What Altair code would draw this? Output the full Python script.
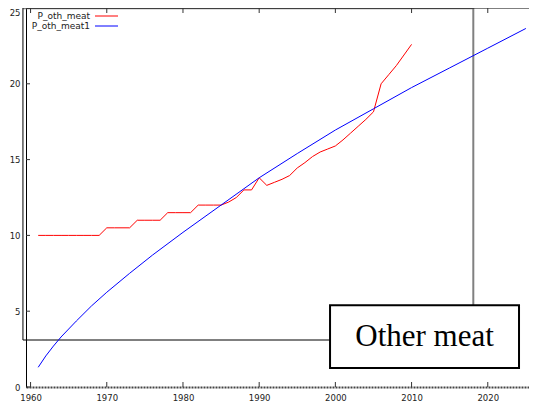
import altair as alt
import pandas as pd

# ---- data ----
red_years = list(range(1961, 2011))
red_vals = [10.0, 10.0, 10.0, 10.0, 10.0, 10.0, 10.0, 10.0, 10.0,
            10.5, 10.5, 10.5, 10.5,
            11.0, 11.0, 11.0, 11.0,
            11.5, 11.5, 11.5, 11.5,
            12.0, 12.0, 12.0, 12.0,
            12.2, 12.5, 13.0, 13.0, 13.8, 13.3, 13.5, 13.7, 13.95, 14.45,
            14.8, 15.2, 15.5, 15.7, 15.9, 16.3, 16.75, 17.2, 17.65, 18.15,
            20.0, 20.6, 21.2, 21.9, 22.6]

blue_years = [1961, 1962, 1963, 1964, 1966, 1968, 1970, 1973, 1976, 1980,
              1985, 1990, 1995, 2000, 2005, 2010, 2015, 2020, 2025]
blue_vals = [1.3, 2.05, 2.7, 3.3, 4.35, 5.35, 6.25, 7.5, 8.7, 10.2,
             12.0, 13.8, 15.4, 16.95, 18.35, 19.75, 21.05, 22.35, 23.65]

series_names = ["P_oth_meat", "P_oth_meat1"]
series_colors = ["#ff0000", "#0000ff"]

x_ticks = [1960, 1970, 1980, 1990, 2000, 2010, 2020]
y_ticks = [0, 5, 10, 15, 20, 25]

box_years = [1959.0, 2018.1]
box_vals = [3.1, 25.0]

label_text = "Other meat"
label_years = [1999.3, 2024.1]
label_vals = [1.25, 5.4]

# ---- chart ----
W, H = 503, 379
xs = alt.Scale(domain=[1959.4, 2025.41], nice=False, zero=False)
ys = alt.Scale(domain=[0, 25], nice=False, zero=True)

x_axis = alt.Axis(values=x_ticks, format="d", title=None, ticks=False, grid=False,
                  labelPadding=6, domainColor="#444", domainWidth=2, domainDash=[2, 1])
y_axis = alt.Axis(values=y_ticks, title=None, ticks=False, grid=False,
                  labelPadding=6, domainColor="#000", domainWidth=1,
                  labelBaseline={"condition": {"test": "datum.value == 25", "value": "top"},
                                 "value": "middle"})

def X(field):
    return alt.X(field, type="quantitative", scale=xs, axis=x_axis)

def Y(field):
    return alt.Y(field, type="quantitative", scale=ys, axis=y_axis)

lines_df = pd.concat([
    pd.DataFrame({"year": red_years, "value": red_vals, "series": series_names[0]}),
    pd.DataFrame({"year": blue_years, "value": blue_vals, "series": series_names[1]}),
])

edges_df = pd.DataFrame({
    "x": [box_years[0], box_years[1], box_years[0], box_years[0]],
    "x2": [box_years[1], box_years[1], box_years[1], box_years[0]],
    "y": [box_vals[1], box_vals[0], box_vals[0], box_vals[0]],
    "y2": [box_vals[1], box_vals[1], box_vals[0], box_vals[1]],
    "c": ["#808080", "#808080", "#000000", "#000000"],
    "w": [2.5, 2, 1, 1],
})

edges = alt.Chart(edges_df).mark_rule().encode(
    x=X("x"), x2="x2", y=Y("y"), y2="y2",
    color=alt.Color("c:N", scale=None), strokeWidth=alt.StrokeWidth("w:Q", scale=None),
)

top_border = alt.Chart(pd.DataFrame({"a": [0]})).mark_rule(color="#000", strokeWidth=1).encode(
    x=alt.value(0), x2=alt.value(W), y=alt.value(0))

tick_x_df = pd.DataFrame({"year": x_ticks})
ticks_bottom = alt.Chart(tick_x_df).mark_rule(color="#333").encode(
    x=X("year"), y=alt.value(H), y2=alt.value(H - 5))
ticks_top = alt.Chart(tick_x_df).mark_rule(color="#333").encode(
    x=X("year"), y=alt.value(0), y2=alt.value(5))
ticks_left = alt.Chart(pd.DataFrame({"v": y_ticks})).mark_rule(color="#333").encode(
    y=Y("v"), x=alt.value(0), x2=alt.value(4))

lines = alt.Chart(lines_df).mark_line(strokeWidth=1).encode(
    x=X("year"), y=Y("value"),
    color=alt.Color("series:N", scale=alt.Scale(domain=series_names, range=series_colors), legend=None),
)

label_df = pd.DataFrame({"x": [label_years[0]], "x2": [label_years[1]],
                         "y": [label_vals[0]], "y2": [label_vals[1]],
                         "xc": [(label_years[0] + label_years[1]) / 2],
                         "yc": [(label_vals[0] + label_vals[1]) / 2],
                         "t": [label_text]})
label_box = alt.Chart(label_df).mark_rect(fill="white", stroke="black", strokeWidth=2).encode(
    x=X("x"), x2="x2", y=Y("y"), y2="y2")
label_txt = alt.Chart(label_df).mark_text(font="Liberation Serif", fontSize=31, color="black",
                                          align="center", baseline="middle").encode(
    x=X("xc"), y=Y("yc"), text="t:N")

leg_layers = []
for i, (name, col) in enumerate(zip(series_names, series_colors)):
    ldf = pd.DataFrame({"name": [name]})
    leg_layers.append(alt.Chart(ldf).mark_text(font="DejaVu Sans", fontSize=9, color="#222",
                                               align="right", baseline="middle").encode(
        x=alt.value(64), y=alt.value(8 + 10 * i), text="name:N"))
    leg_layers.append(alt.Chart(ldf).mark_rule(color=col, strokeWidth=1).encode(
        x=alt.value(69), x2=alt.value(92), y=alt.value(8 + 10 * i)))

chart = alt.layer(
    edges, top_border, ticks_bottom, ticks_top, ticks_left, lines, label_box, label_txt, *leg_layers
).properties(
    width=W, height=H,
    autosize=alt.AutoSizeParams(type="none"),
    padding={"left": 18, "top": 0, "right": 0, "bottom": 18},
).configure_view(stroke=None).configure_axis(
    labelFont="DejaVu Sans", labelFontSize=8.5, labelColor="#222"
)

chart.save("out.html", embed_options={"renderer": "svg", "actions": False})
